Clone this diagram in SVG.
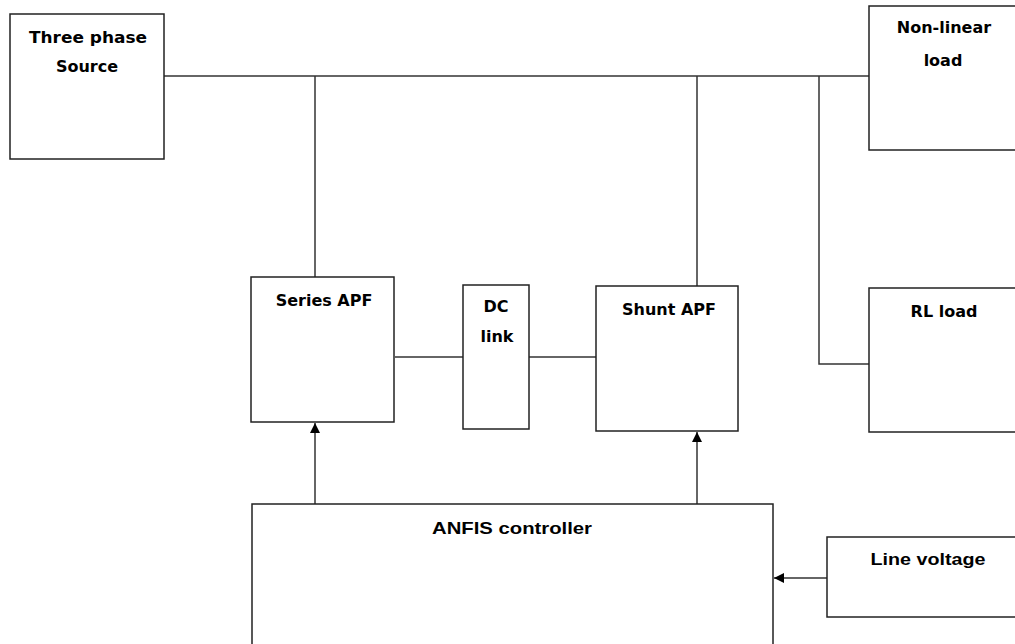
<svg xmlns="http://www.w3.org/2000/svg" width="1015" height="644" viewBox="0 0 1015 644">
<style>
.box{fill:#fff;stroke:#222;stroke-width:1.5}
.ln{fill:none;stroke:#333;stroke-width:1.5}
.t{font-family:"DejaVu Sans","Liberation Sans",sans-serif;font-weight:bold;font-size:16px;fill:#000;text-anchor:middle}
.c{font-family:"Liberation Sans Narrow","Liberation Sans",sans-serif;font-weight:bold;font-size:17px;fill:#000;text-anchor:middle}
</style>
<defs>
<marker id="ah" viewBox="0 0 10 10" refX="10" refY="5" markerWidth="10" markerHeight="10" markerUnits="userSpaceOnUse" orient="auto">
<path d="M0,0 L10,5 L0,10 z" fill="#000"/>
</marker>
</defs>
<g id="connectors">
<path class="ln" d="M164,76 H869"/>
<path class="ln" d="M315,76 V277"/>
<path class="ln" d="M697,76 V286"/>
<path class="ln" d="M819,76 V364 H869"/>
<path class="ln" d="M395,357 H463"/>
<path class="ln" d="M529,357 H596"/>
<path class="ln" d="M315,504 V423" marker-end="url(#ah)"/>
<path class="ln" d="M697,504 V432" marker-end="url(#ah)"/>
<path class="ln" d="M827,578 H774" marker-end="url(#ah)"/>
</g>
<g id="source">
<rect class="box" x="10" y="14" width="154" height="145"/>
<text class="t" x="88" y="43" textLength="118" lengthAdjust="spacingAndGlyphs">Three phase</text>
<text class="t" x="87" y="72">Source</text>
</g>
<g id="nonlinear">
<rect class="box" x="869" y="6" width="160" height="144"/>
<text class="t" x="944" y="33">Non-linear</text>
<text class="t" x="943" y="66">load</text>
</g>
<g id="series">
<rect class="box" x="251" y="277" width="143" height="145"/>
<text class="t" x="324" y="306">Series APF</text>
</g>
<g id="dclink">
<rect class="box" x="463" y="285" width="66" height="144"/>
<text class="t" x="496" y="312">DC</text>
<text class="t" x="497" y="342">link</text>
</g>
<g id="shunt">
<rect class="box" x="596" y="286" width="142" height="145"/>
<text class="t" x="669" y="315">Shunt APF</text>
</g>
<g id="rlload">
<rect class="box" x="869" y="288" width="160" height="144"/>
<text class="t" x="944" y="317">RL load</text>
</g>
<g id="anfis">
<rect class="box" x="252" y="504" width="521" height="160"/>
<text class="c" x="512" y="534" textLength="160" lengthAdjust="spacingAndGlyphs">ANFIS controller</text>
</g>
<g id="linevoltage">
<rect class="box" x="827" y="537" width="200" height="80"/>
<text class="c" x="928" y="565" textLength="115" lengthAdjust="spacingAndGlyphs">Line voltage</text>
</g>
</svg>
